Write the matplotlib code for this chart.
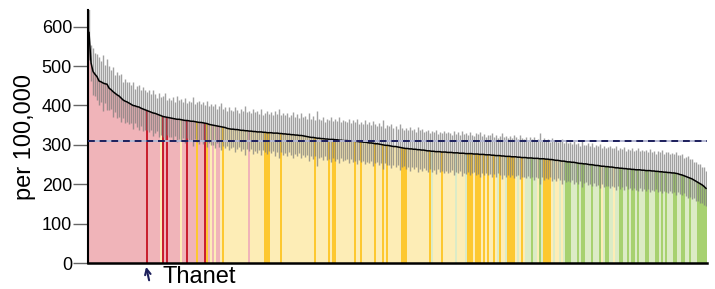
import matplotlib
matplotlib.use("Agg")
import matplotlib.pyplot as plt
import numpy as np

plt.rcParams["font.family"] = ["Liberation Sans", "DejaVu Sans"]

# Rates per 100,000 (sorted, one per local authority)
rates = [
    585, 508, 486, 479, 473, 462, 460, 457, 455, 454,
    444, 440, 435, 431, 427, 424, 419, 414, 411, 409,
    406, 403, 400, 399, 397, 396, 393, 391, 389, 387,
    385, 383, 381, 380, 378, 376, 374, 372, 371, 370,
    369, 368, 367, 366, 365, 365, 364, 363, 362, 362,
    361, 360, 360, 359, 358, 357, 357, 356, 355, 354,
    352, 351, 350, 349, 348, 347, 346, 345, 344, 342,
    341, 340, 340, 339, 339, 338, 337, 337, 336, 336,
    335, 335, 334, 334, 333, 333, 333, 332, 332, 331,
    331, 331, 330, 330, 330, 329, 329, 328, 328, 327,
    327, 326, 326, 325, 325, 324, 324, 323, 322, 321,
    320, 319, 319, 318, 317, 317, 316, 316, 315, 315,
    314, 314, 314, 313, 313, 312, 312, 311, 311, 311,
    310, 310, 310, 309, 309, 308, 308, 307, 307, 306,
    305, 305, 304, 303, 303, 302, 301, 300, 299, 299,
    298, 297, 296, 296, 295, 294, 293, 292, 291, 291,
    290, 290, 289, 289, 288, 288, 287, 287, 286, 285,
    285, 284, 284, 283, 283, 283, 282, 282, 282, 281,
    281, 281, 280, 280, 280, 279, 279, 279, 278, 278,
    278, 278, 277, 277, 277, 276, 276, 276, 275, 275,
    275, 274, 274, 273, 273, 273, 272, 272, 271, 271,
    271, 270, 270, 270, 269, 269, 268, 268, 268, 267,
    267, 267, 266, 266, 266, 265, 265, 265, 264, 264,
    263, 263, 262, 261, 261, 260, 259, 259, 258, 257,
    257, 256, 256, 255, 254, 253, 253, 252, 252, 251,
    250, 250, 249, 248, 248, 247, 246, 246, 245, 245,
    244, 244, 243, 242, 242, 241, 241, 240, 240, 239,
    239, 238, 238, 237, 237, 237, 236, 236, 235, 235,
    235, 234, 234, 233, 233, 232, 232, 231, 231, 230,
    230, 229, 229, 228, 227, 225, 224, 222, 220, 218,
    216, 214, 211, 208, 205, 202, 199, 195, 190,
]

# Confidence interval half-widths
ci_half = [
    70, 45, 60, 55, 58, 62, 52, 70, 48, 65,
    55, 50, 63, 47, 58, 52, 60, 45, 56, 50,
    54, 48, 60, 44, 52, 57, 46, 55, 50, 48,
    53, 45, 58, 50, 42, 56, 48, 52, 61, 44,
    50, 47, 55, 43, 58, 49, 52, 46, 57, 45,
    51, 48, 62, 44, 50, 55, 47, 53, 45, 58,
    46, 52, 49, 56, 44, 51, 60, 47, 53, 45,
    55, 49, 46, 58, 50, 44, 53, 48, 62, 47,
    51, 45, 56, 49, 53, 46, 58, 44, 50, 55,
    47, 52, 45, 57, 49, 61, 46, 53, 48, 55,
    44, 51, 58, 47, 53, 45, 56, 49, 52, 46,
    60, 48, 54, 45, 70, 50, 47, 55, 44, 52,
    49, 57, 46, 53, 48, 59, 45, 52, 50, 47,
    55, 46, 53, 49, 58, 45, 51, 47, 56, 48,
    52, 45, 57, 50, 46, 54, 48, 62, 45, 51,
    49, 56, 47, 53, 45, 58, 50, 46, 52, 48,
    55, 47, 51, 45, 57, 49, 53, 46, 50, 54,
    46, 52, 48, 56, 45, 51, 49, 54, 47, 53,
    50, 45, 55, 48, 52, 46, 57, 49, 51, 47,
    54, 48, 45, 53, 50, 56, 47, 52, 46, 51,
    49, 55, 47, 53, 45, 50, 58, 48, 52, 46,
    51, 47, 54, 49, 45, 56, 50, 48, 53, 46,
    52, 48, 55, 46, 50, 64, 47, 53, 49, 51,
    45, 54, 48, 52, 46, 50, 57, 47, 53, 49,
    51, 46, 55, 48, 52, 45, 60, 49, 47, 53,
    48, 54, 46, 51, 49, 56, 45, 52, 48, 50,
    53, 47, 50, 55, 46, 52, 48, 54, 45, 51,
    49, 53, 46, 50, 55, 47, 52, 48, 51, 46,
    54, 48, 50, 45, 52, 49, 55, 47, 50, 53,
    46, 51, 48, 54, 47, 50, 52, 45, 49, 53,
    48, 51, 46, 50, 47, 49, 45, 48, 44,
]

# r/R = higher, y/Y = similar, g/G = lower; capital = same region as highlight
groups = (
    "rrrrrrrrrr" "rrrrrrrrrr" "rrrrrrrrrR" "rrrrrryRrR" "rrrrrryrrR"
    "rrrrYrrrRY" "ryryrryYyy" "yyyyyyyyyy" "ryyyyyyyYY" "YyyyyyYyyy"
    "yyyyyyyyyy" "yyyYyyyyyy" "YyYYyyyyyy" "yyyYyyYyyy" "yyyYyyyYyY"
    "yyyyyyYYYy" "yyyyyyyyyy" "YgyyyyYyyy" "yyygyyyygY" "YYyYYYyYyY"
    "yyYygYyygY" "YYYygyYygg" "gGggyGgYYY" "YygyygygGG" "GgggGgGGgg"
    "gGgggGygGG" "ggyggGGggG" "gGGgGgggGG" "gggGGgGgGg" "ggGGggGGgg"
    "GgggGGGGG"
)

england_rate = 310
yticks = [0, 100, 200, 300, 400, 500, 600]
highlight_index = 29
highlight_label = "Thanet"
y_label = "per 100,000"

palette = {
    "r": "#f0b4b9", "R": "#c9202f",
    "y": "#fdedb6", "Y": "#fdc830",
    "g": "#dcebc6", "G": "#a7d170",
}

fig = plt.figure(figsize=(7.15, 2.89), dpi=100)
ax = fig.add_axes([0.1231, 0.0889, 0.8657, 0.8765])

x = np.arange(len(rates))
vals = np.array(rates, dtype=float)
half = np.array(ci_half, dtype=float)

ax.bar(x, vals, width=1.0, color=[palette[c] for c in groups],
       linewidth=0, zorder=1)
ax.vlines(x, vals - half, vals + half, colors="#7a7a7a", lw=1.0,
          alpha=0.7, zorder=2)
ax.plot(x, vals, color="black", lw=1.1, zorder=3)
ax.axhline(england_rate, color="#b5b9d3", lw=1.4, zorder=4)
ax.axhline(england_rate, color="#1c1f5c", lw=1.4, dashes=(3.5, 2.5), zorder=5)

ax.set_xlim(-0.5, len(rates) - 0.5)
ax.set_ylim(0, 642)
ax.set_xticks([])
ax.set_yticks(yticks)
ax.tick_params(axis="y", length=10.5, width=1, color="#666666", pad=1,
               labelsize=13)
for s in ["top", "right"]:
    ax.spines[s].set_visible(False)
ax.spines["left"].set_linewidth(1.5)
ax.spines["bottom"].set_linewidth(1.8)
ax.set_ylabel(y_label, fontsize=17, labelpad=4)

ax.annotate("", xy=(highlight_index - 0.5, -9), xytext=(highlight_index + 1.0, -43),
            xycoords="data", textcoords="data", annotation_clip=False,
            arrowprops=dict(arrowstyle="->", color="#1c1f5c", lw=1.5,
                            shrinkA=0, shrinkB=0))
ax.text(highlight_index + 7.5, -50, highlight_label, fontsize=17,
        ha="left", va="baseline", clip_on=False)

fig.savefig("out.png", dpi=100)
